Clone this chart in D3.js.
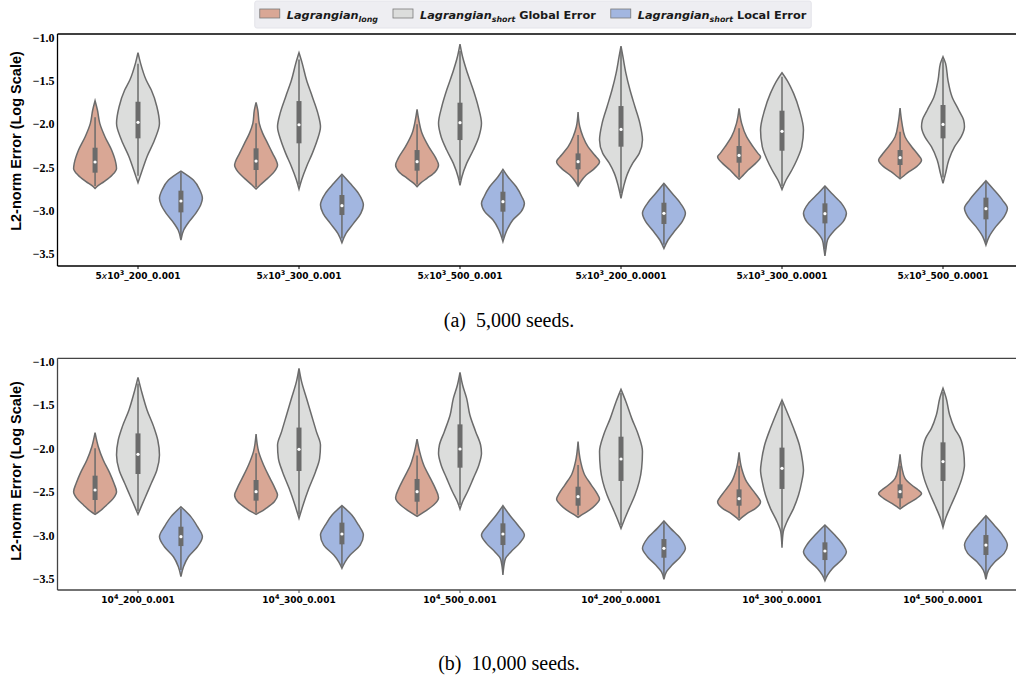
<!DOCTYPE html>
<html><head><meta charset="utf-8">
<script src="https://cdnjs.cloudflare.com/ajax/libs/d3/7.8.5/d3.min.js"></script>
<style>body{margin:0;background:#fff}</style>
</head><body><svg id="c" width="1016" height="680"></svg>
<script>
// ---------------- DATA ----------------
const categoriesA = ["5x10^3_200_0.001","5x10^3_300_0.001","5x10^3_500_0.001","5x10^3_200_0.0001","5x10^3_300_0.0001","5x10^3_500_0.0001"];
const categoriesB = ["10^4_200_0.001","10^4_300_0.001","10^4_500_0.001","10^4_200_0.0001","10^4_300_0.0001","10^4_500_0.0001"];
const seriesNames = ["long","short Global Error","short Local Error"];
const yTicks = [-1.0,-1.5,-2.0,-2.5,-3.0,-3.5];
const captions = ["(a)\u00a0 5,000 seeds.","(b)\u00a0 10,000 seeds."];

// violin profiles: [value, relative width]
const longA_shape = [
 [[-1.728,0],[-1.836,0.11],[-1.991,0.22],[-2.146,0.46],[-2.301,0.77],[-2.456,0.97],[-2.514,1],[-2.591,0.8],[-2.668,0.42],[-2.727,0.08],[-2.746,0]],
 [[-1.747,0],[-1.836,0.08],[-1.991,0.15],[-2.107,0.31],[-2.223,0.54],[-2.340,0.77],[-2.436,0.96],[-2.475,1],[-2.552,0.85],[-2.630,0.54],[-2.707,0.19],[-2.754,0]],
 [[-1.829,0],[-1.952,0.08],[-2.107,0.23],[-2.262,0.54],[-2.398,0.88],[-2.475,1],[-2.552,0.85],[-2.630,0.46],[-2.688,0.15],[-2.727,0]],
 [[-1.859,0],[-2.030,0.08],[-2.146,0.23],[-2.262,0.46],[-2.359,0.77],[-2.436,1],[-2.514,0.77],[-2.591,0.38],[-2.669,0.12],[-2.719,0]],
 [[-1.817,0],[-1.991,0.12],[-2.146,0.35],[-2.262,0.65],[-2.340,0.88],[-2.378,1],[-2.456,0.77],[-2.533,0.42],[-2.611,0.12],[-2.641,0]],
 [[-1.813,0],[-1.991,0.09],[-2.146,0.23],[-2.262,0.54],[-2.359,0.85],[-2.417,1],[-2.494,0.77],[-2.552,0.42],[-2.611,0.12],[-2.634,0]]
];
const globA_shape = [
 [[-1.170,0],[-1.294,0.12],[-1.488,0.38],[-1.604,0.62],[-1.798,0.88],[-1.991,1],[-2.185,0.77],[-2.378,0.42],[-2.533,0.2],[-2.680,0]],
 [[-1.170,0],[-1.294,0.15],[-1.488,0.35],[-1.681,0.62],[-1.875,0.88],[-2.030,1],[-2.185,0.85],[-2.340,0.62],[-2.494,0.35],[-2.649,0.12],[-2.754,0]],
 [[-1.070,0],[-1.217,0.12],[-1.410,0.35],[-1.604,0.62],[-1.798,0.85],[-1.991,1],[-2.146,0.88],[-2.301,0.62],[-2.456,0.31],[-2.611,0.09],[-2.711,0]],
 [[-1.093,0],[-1.217,0.09],[-1.410,0.23],[-1.604,0.42],[-1.798,0.65],[-1.991,0.88],[-2.185,1],[-2.340,0.85],[-2.456,0.54],[-2.572,0.31],[-2.727,0.12],[-2.862,0]],
 [[-1.403,0],[-1.488,0.23],[-1.643,0.54],[-1.836,0.81],[-2.069,1],[-2.262,0.92],[-2.417,0.69],[-2.533,0.46],[-2.649,0.19],[-2.758,0]],
 [[-1.217,0],[-1.294,0.12],[-1.488,0.23],[-1.681,0.42],[-1.836,0.73],[-1.952,0.96],[-2.030,1],[-2.146,0.85],[-2.262,0.54],[-2.417,0.27],[-2.572,0.12],[-2.688,0]]
];
const locA_shape = [
 [[-2.545,0],[-2.649,0.58],[-2.765,0.88],[-2.862,1],[-2.940,0.92],[-3.036,0.69],[-3.133,0.38],[-3.230,0.13],[-3.346,0]],
 [[-2.583,0],[-2.688,0.38],[-2.804,0.77],[-2.940,1],[-3.036,0.88],[-3.153,0.54],[-3.269,0.19],[-3.377,0]],
 [[-2.525,0],[-2.611,0.23],[-2.727,0.62],[-2.843,0.88],[-2.920,1],[-3.017,0.85],[-3.114,0.46],[-3.230,0.19],[-3.365,0]],
 [[-2.688,0],[-2.804,0.38],[-2.920,0.77],[-3.036,1],[-3.133,0.85],[-3.230,0.54],[-3.346,0.19],[-3.443,0]],
 [[-2.719,0],[-2.804,0.31],[-2.920,0.77],[-3.036,1],[-3.133,0.85],[-3.230,0.46],[-3.346,0.12],[-3.462,0.04],[-3.532,0]],
 [[-2.657,0],[-2.765,0.38],[-2.882,0.77],[-2.978,1],[-3.075,0.85],[-3.191,0.46],[-3.307,0.15],[-3.404,0]]
];
const longB_shape = [
 [[-1.818,0],[-1.979,0.15],[-2.132,0.38],[-2.286,0.69],[-2.401,0.88],[-2.497,1],[-2.574,0.85],[-2.651,0.54],[-2.728,0.19],[-2.759,0]],
 [[-1.833,0],[-2.036,0.12],[-2.190,0.35],[-2.344,0.65],[-2.459,0.88],[-2.536,1],[-2.613,0.85],[-2.690,0.46],[-2.728,0.23],[-2.758,0]],
 [[-1.891,0],[-2.036,0.12],[-2.190,0.31],[-2.344,0.62],[-2.459,0.85],[-2.566,1],[-2.651,0.77],[-2.709,0.46],[-2.759,0.15],[-2.782,0]],
 [[-1.921,0],[-2.152,0.12],[-2.305,0.31],[-2.421,0.62],[-2.517,0.88],[-2.582,1],[-2.651,0.81],[-2.728,0.42],[-2.767,0.15],[-2.793,0]],
 [[-2.044,0],[-2.229,0.12],[-2.382,0.35],[-2.497,0.69],[-2.574,0.92],[-2.613,1],[-2.690,0.77],[-2.747,0.38],[-2.797,0.12],[-2.824,0]],
 [[-2.067,0],[-2.229,0.09],[-2.344,0.23],[-2.421,0.54],[-2.478,0.85],[-2.517,1],[-2.574,0.77],[-2.632,0.38],[-2.670,0.15],[-2.697,0]]
];
const globB_shape = [
 [[-1.180,0],[-1.364,0.19],[-1.556,0.42],[-1.748,0.73],[-1.902,0.92],[-2.075,1],[-2.248,0.88],[-2.401,0.62],[-2.555,0.35],[-2.670,0.15],[-2.759,0]],
 [[-1.076,0],[-1.230,0.12],[-1.422,0.35],[-1.614,0.58],[-1.806,0.81],[-1.960,1],[-2.113,0.96],[-2.267,0.77],[-2.459,0.46],[-2.651,0.19],[-2.805,0]],
 [[-1.123,0],[-1.268,0.12],[-1.422,0.31],[-1.614,0.46],[-1.806,0.73],[-1.960,0.96],[-2.056,1],[-2.190,0.88],[-2.344,0.62],[-2.498,0.35],[-2.613,0.12],[-2.697,0]],
 [[-1.319,0],[-1.461,0.23],[-1.653,0.5],[-1.845,0.81],[-2.036,1],[-2.229,0.96],[-2.382,0.85],[-2.536,0.65],[-2.690,0.38],[-2.843,0.12],[-2.920,0]],
 [[-1.441,0],[-1.576,0.23],[-1.768,0.54],[-1.960,0.81],[-2.152,0.96],[-2.248,1],[-2.382,0.92],[-2.536,0.77],[-2.690,0.54],[-2.843,0.23],[-2.958,0.06],[-3.142,0]],
 [[-1.307,0],[-1.422,0.15],[-1.614,0.31],[-1.768,0.54],[-1.883,0.81],[-2.036,0.96],[-2.190,1],[-2.344,0.88],[-2.498,0.65],[-2.651,0.38],[-2.805,0.12],[-2.908,0]]
];
const locB_shape = [
 [[-2.671,0],[-2.785,0.46],[-2.901,0.77],[-3.016,1],[-3.132,0.77],[-3.247,0.35],[-3.362,0.12],[-3.477,0]],
 [[-2.658,0],[-2.766,0.46],[-2.881,0.77],[-2.997,1],[-3.112,0.85],[-3.228,0.38],[-3.305,0.15],[-3.380,0]],
 [[-2.658,0],[-2.766,0.31],[-2.881,0.69],[-2.997,1],[-3.093,0.77],[-3.189,0.38],[-3.266,0.12],[-3.361,0.04],[-3.457,0]],
 [[-2.835,0],[-2.920,0.31],[-3.035,0.77],[-3.150,1],[-3.246,0.77],[-3.342,0.38],[-3.419,0.12],[-3.507,0]],
 [[-2.881,0],[-2.997,0.46],[-3.112,0.85],[-3.189,1],[-3.285,0.77],[-3.381,0.35],[-3.458,0.12],[-3.522,0]],
 [[-2.774,0],[-2.881,0.38],[-2.997,0.77],[-3.112,1],[-3.208,0.85],[-3.305,0.42],[-3.401,0.12],[-3.507,0]]
];
// inner box stats: [low whisker, q1, median, q3, high whisker]
const longA_box = [[-2.72,-2.564,-2.440,-2.274,-1.921],[-2.73,-2.533,-2.429,-2.281,-1.991],[-2.70,-2.541,-2.436,-2.301,-2.00],[-2.70,-2.525,-2.436,-2.340,-2.127],[-2.62,-2.448,-2.363,-2.254,-2.049],[-2.62,-2.475,-2.390,-2.301,-2.088]];
const globA_box = [[-2.60,-2.165,-1.979,-1.740,-1.30],[-2.70,-2.223,-2.007,-1.732,-1.25],[-2.65,-2.185,-1.983,-1.751,-1.15],[-2.80,-2.262,-2.061,-1.790,-1.15],[-2.72,-2.309,-2.084,-1.844,-1.45],[-2.62,-2.165,-2.003,-1.778,-1.25]];
const locA_box = [[-3.30,-3.025,-2.893,-2.773,-2.56],[-3.33,-3.056,-2.947,-2.823,-2.60],[-3.32,-3.017,-2.901,-2.785,-2.55],[-3.40,-3.160,-3.036,-2.913,-2.70],[-3.45,-3.153,-3.040,-2.920,-2.73],[-3.37,-3.106,-2.982,-2.854,-2.67]];
const longB_box = [[-2.74,-2.593,-2.478,-2.313,-1.998],[-2.74,-2.601,-2.497,-2.363,-2.056],[-2.76,-2.613,-2.497,-2.351,-2.08],[-2.77,-2.659,-2.555,-2.440,-2.19],[-2.80,-2.659,-2.578,-2.471,-2.20],[-2.68,-2.574,-2.497,-2.413,-2.20]];
const globB_box = [[-2.72,-2.294,-2.067,-1.826,-1.25],[-2.76,-2.259,-2.010,-1.759,-1.12],[-2.65,-2.221,-2.006,-1.722,-1.16],[-2.88,-2.374,-2.121,-1.864,-1.36],[-3.10,-2.466,-2.228,-1.990,-1.47],[-2.87,-2.374,-2.151,-1.929,-1.35]];
const locB_box = [[-3.40,-3.124,-3.016,-2.901,-2.69],[-3.35,-3.104,-2.985,-2.854,-2.67],[-3.40,-3.112,-2.985,-2.862,-2.67],[-3.47,-3.258,-3.150,-3.043,-2.85],[-3.49,-3.285,-3.181,-3.081,-2.89],[-3.47,-3.227,-3.112,-2.997,-2.79]];

// ---------------- STYLE ----------------
const colors = ["#d9a795","#dcdddc","#a2b6e0"];
const lineCol = "#6b6b6b";

const svg = d3.select("#c");
const panels = [
  {cats:categoriesA, shapes:[longA_shape,globA_shape,locA_shape], boxes:[longA_box,globA_box,locA_box],
   top:34, bot:266, vTop:-0.953, vBot:-3.648, spine:"#000", labY:12.8, ylabY:141, cap:captions[0], capY:327},
  {cats:categoriesB, shapes:[longB_shape,globB_shape,locB_shape], boxes:[longB_box,globB_box,locB_box],
   top:358.3, bot:590, vTop:-0.961, vBot:-3.630, spine:"#444", labY:12.8, ylabY:471, cap:captions[1], capY:670}
];
const left = 57.5, right = 1023.5;

panels.forEach(p => {
  const x = d3.scaleBand().domain(d3.range(p.cats.length)).range([left, right]).padding(0);
  const bw = x.bandwidth();
  const hue = d3.scaleBand().domain(d3.range(3)).range([-0.4*bw, 0.4*bw]).padding(0);
  const hw = hue.bandwidth()/2;
  const y = d3.scaleLinear().domain([p.vBot, p.vTop]).range([p.bot, p.top]);
  const g = svg.append("g");

  // violins
  p.cats.forEach((c, i) => {
    for (let s = 0; s < 3; s++) {
      const cx = x(i) + bw/2 + hue(s) + hw;
      const area = d3.area()
        .y(d => y(d[0]))
        .x0(d => cx - d[1]*hw)
        .x1(d => cx + d[1]*hw)
        .curve(d3.curveMonotoneY);
      g.append("path").attr("d", area(p.shapes[s][i]))
        .attr("fill", colors[s]).attr("stroke", lineCol).attr("stroke-width", 1.5);
      const b = p.boxes[s][i];
      g.append("line").attr("x1", cx).attr("x2", cx).attr("y1", y(b[0])).attr("y2", y(b[4]))
        .attr("stroke", lineCol).attr("stroke-width", 1.5);
      g.append("line").attr("x1", cx).attr("x2", cx).attr("y1", y(b[1])).attr("y2", y(b[3]))
        .attr("stroke", lineCol).attr("stroke-width", 5);
      g.append("circle").attr("cx", cx).attr("cy", y(b[2])).attr("r", 1.6).attr("fill", "#fff");
    }
  });

  // y axis
  const ya = g.append("g").attr("transform", `translate(${left},0)`)
    .call(d3.axisLeft(y).tickValues(yTicks).tickFormat(d3.format(".1f")).tickSize(0).tickPadding(3));
  ya.select(".domain").remove();
  ya.selectAll("text").attr("font-family", "'Liberation Serif', serif").attr("font-weight", "bold")
    .attr("font-size", 12).attr("fill", "#000");

  // x axis
  const xa = g.append("g").attr("transform", `translate(0,${p.bot})`)
    .call(d3.axisBottom(x).tickSize(3).tickFormat(""));
  xa.select(".domain").remove();
  xa.selectAll(".tick line").attr("stroke", p.spine);
  xa.selectAll(".tick").each(function(i) {
    const m = p.cats[i].match(/^(\d*)(x?)(10)\^(\d)(.*)$/);
    const t = d3.select(this).append("text").attr("y", p.labY).attr("text-anchor", "middle")
      .attr("font-family", "'DejaVu Sans', sans-serif").attr("font-weight", "bold").attr("font-size", 9).attr("fill", "#000");
    if (m[1]) t.append("tspan").text(m[1]);
    if (m[2]) t.append("tspan").attr("font-style", "italic").attr("font-weight", "normal").text("x");
    t.append("tspan").text(m[3]);
    t.append("tspan").attr("dy", -3.5).attr("font-size", 6.5).text(m[4]);
    t.append("tspan").attr("dy", 3.5).text(m[5]);
  });

  // spines
  g.append("line").attr("x1", left).attr("x2", right).attr("y1", p.top).attr("y2", p.top).attr("stroke", p.spine).attr("stroke-width", 1.3);
  g.append("line").attr("x1", left).attr("x2", right).attr("y1", p.bot).attr("y2", p.bot).attr("stroke", p.spine).attr("stroke-width", 1.3);
  g.append("line").attr("x1", left).attr("x2", left).attr("y1", p.top).attr("y2", p.bot).attr("stroke", p.spine).attr("stroke-width", 1.3);

  // y label
  g.append("text").attr("transform", `translate(21,${p.ylabY}) rotate(-90)`).attr("text-anchor", "middle")
    .attr("font-family", "'Liberation Sans', Arial, sans-serif").attr("font-weight", "bold").attr("font-size", 14.5)
    .attr("fill", "#000").text("L2-norm Error (Log Scale)");

  // caption
  svg.append("text").attr("x", 509).attr("y", p.capY).attr("text-anchor", "middle")
    .attr("font-family", "'Liberation Serif', 'Times New Roman', serif").attr("font-size", 20).attr("fill", "#000").text(p.cap);
});

// ---------------- LEGEND ----------------
const lg = svg.append("g");
const lbg = lg.append("rect");
let cursor = 0;
const fs = 11.3, patchW = 20, patchH = 9, pad = 7, colSp = 15, baseY = 18.5;
seriesNames.forEach((nm, i) => {
  const it = lg.append("g");
  it.append("rect").attr("x", cursor).attr("y", baseY - 9.5).attr("width", patchW).attr("height", patchH)
    .attr("fill", colors[i]).attr("stroke", "#7a7a7a").attr("stroke-width", 0.8);
  const parts = nm.split(" ");
  const t = it.append("text").attr("x", cursor + patchW + pad).attr("y", baseY)
    .attr("font-family", "'DejaVu Sans', sans-serif").attr("font-weight", "bold").attr("font-size", fs).attr("fill", "#1a1a1a");
  t.append("tspan").attr("font-style", "italic").text("Lagrangian");
  t.append("tspan").attr("font-style", "italic").attr("font-size", fs*0.7).attr("dy", 3).text(parts[0]);
  if (parts.length > 1) t.append("tspan").attr("dy", -3).text("\u00a0" + parts.slice(1).join(" "));
  const w = t.node().getComputedTextLength();
  cursor += patchW + pad + w + colSp;
});
const total = cursor - colSp;
const lx = 533 - total/2;
lg.attr("transform", `translate(${lx},0)`);
lbg.attr("x", -5).attr("y", 1).attr("width", total + 10).attr("height", 27).attr("rx", 2)
  .attr("fill", "#eeeef2").attr("stroke", "#e4e4ea");
</script></body></html>
